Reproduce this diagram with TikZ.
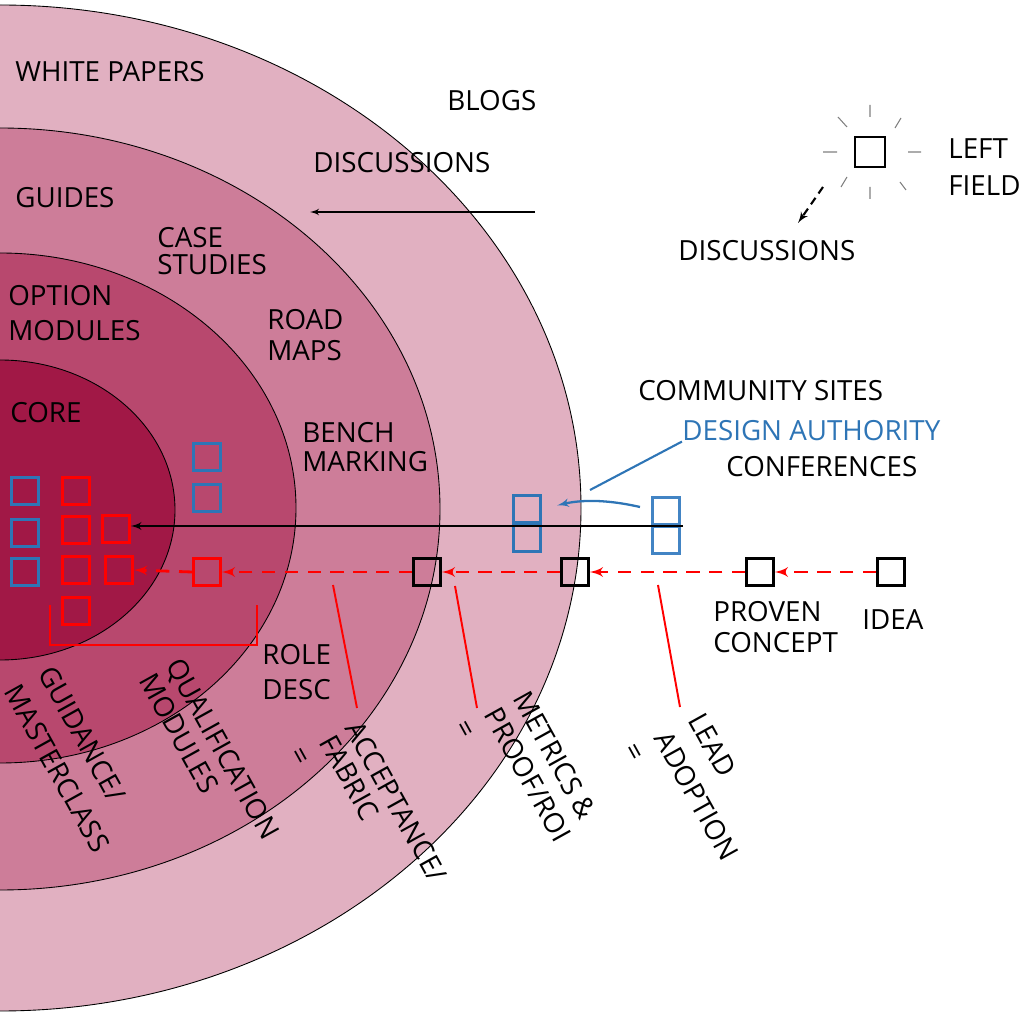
\documentclass[tikz,border=0pt]{standalone}
\usepackage{fontspec}
\setmainfont{Open Sans}
\usepackage{xcolor}
\usepackage{tikz}
\usetikzlibrary{arrows, arrows.meta}

\definecolor{ringouter}{RGB}{225,176,193}
\definecolor{ringmid}{RGB}{205,125,153}
\definecolor{ringinner}{RGB}{184,72,110}
\definecolor{ringcore}{RGB}{161,24,70}
\definecolor{dablue}{RGB}{46,117,182}
\definecolor{dalight}{RGB}{66,132,196}

\begin{document}
\begin{tikzpicture}[x=0.02cm, y=-0.02cm, >=latex',
    lbl/.style={inner sep=0pt, align=left, anchor=west, font=\fontsize{15.8}{17.5}\selectfont},
    turned/.style={lbl, anchor=north west, rotate=-61},
    box/.style={rectangle, draw, line width=1.5pt, minimum size=0.54cm, inner sep=0pt},
    redbox/.style={box, draw=red},
    bluebox/.style={box, draw=dablue},
    flow/.style={->, red, line width=1.6pt, dash pattern=on 7.5pt off 5.5pt},
    pointer/.style={red, line width=1.1pt}]
    \useasboundingbox (0,0) rectangle (1019,1013);

    % rings, cut at the left edge
    \begin{scope}
        \clip (0,0) rectangle (1019,1013);
        \filldraw [fill=ringouter, line width=0.5pt] (0,508) ellipse (581 and 503);
        \filldraw [fill=ringmid, line width=0.5pt] (0,509) ellipse (440 and 381);
        \filldraw [fill=ringinner, line width=0.5pt] (0,508) ellipse (296 and 255);
        \filldraw [fill=ringcore, line width=0.5pt] (0,510) ellipse (175 and 150);
    \end{scope}

    \node (wp) at (15,72) [lbl] {WHITE PAPERS};
    \node (blogs) at (447,101) [lbl] {BLOGS};
    \node (disc) at (313,163) [lbl] {DISCUSSIONS};
    \node (guides) at (15,198) [lbl] {GUIDES};
    \node (cases) at (157,251) [lbl, font=\fontsize{15.8}{15.8}\selectfont] {CASE\\STUDIES};
    \node (optmod) at (8,313) [lbl, font=\fontsize{15.8}{20}\selectfont] {OPTION\\MODULES};
    \node (roads) at (267,335) [lbl] {ROAD\\MAPS};
    \node (core) at (10,413) [lbl] {CORE};
    \node (bench) at (302,447) [lbl, font=\fontsize{15.8}{16.5}\selectfont] {BENCH\\MARKING};
    \node (roles) at (262,672) [lbl, font=\fontsize{15.8}{20}\selectfont] {ROLE\\DESC};

    \node (community) at (638,391) [lbl] {COMMUNITY SITES};
    \node (da) at (682,431) [lbl, text=dablue] {DESIGN AUTHORITY};
    \node (conf) at (726,467) [lbl] {CONFERENCES};

    \coordinate (discfrom) at (535,212);
    \coordinate (discto) at (310,212);
    \draw [->, line width=0.8pt] (discfrom) -- (discto);

    % left field
    \node (lf) at (870,152) [box, line width=1.3pt, minimum size=0.6cm] {};
    \node (lftext) at (948,167) [lbl, font=\fontsize{15.8}{21.5}\selectfont] {LEFT\\FIELD};
    \node (disc2) at (678,251) [lbl] {DISCUSSIONS};
    \draw [gray, line width=0.6pt] (870,105) -- (870,117)  (870,187) -- (870,199)
        (823,152) -- (837,152)  (908,152) -- (921,152)
        (838,117) -- (847,127)  (901,118) -- (895,128)
        (847,177) -- (841,187)  (900,182) -- (906,190);
    \coordinate (lfout) at (823,187);
    \coordinate (lfin) at (798,223);
    \draw [->, line width=1.2pt, dash pattern=on 4.5pt off 3pt] (lfout) -- (lfin);

    % squares in the core
    \node (b1) at (25,491) [bluebox] {};
    \node (b2) at (25,533) [bluebox] {};
    \node (b3) at (25,572) [bluebox] {};
    \node (r1) at (76,491) [redbox] {};
    \node (r2) at (76,530) [redbox] {};
    \node (r3) at (76,570) [redbox] {};
    \node (r4) at (76,611) [redbox] {};
    \node (r5) at (116,529) [redbox] {};
    \node (r6) at (119,570) [redbox] {};
    \node (b4) at (207,457) [bluebox] {};
    \node (b5) at (207,498) [bluebox] {};
    \node (r7) at (207,572) [redbox] {};
    \draw [red, line width=1.2pt] (50,605) -- (50,645) -- (257,645) -- (257,605);

    % pipeline
    \node (accept) at (427,572) [box] {};
    \node (metric) at (575,572) [box] {};
    \node (proven) at (760,572) [box] {};
    \node (idea) at (891,572) [box] {};
    \node (provtext) at (713,627) [lbl] {PROVEN\\CONCEPT};
    \node (ideatext) at (862,620) [lbl] {IDEA};
    \draw [flow] (idea.west) -- (proven.east);
    \draw [flow] (proven.west) -- (metric.east);
    \draw [flow] (metric.west) -- (accept.east);
    \draw [flow] (accept.west) -- (r7.east);
    \draw [flow] (r7.west) -- (r6.east);

    % design authority
    \node (dl1) at (527,509) [bluebox] {};
    \node (dl2) at (527,538) [bluebox] {};
    \node (dr1) at (666,511) [box, draw=dalight, line width=1.3pt] {};
    \node (dr2) at (666,540) [box, draw=dalight, line width=1.3pt] {};
    \coordinate (mainfrom) at (683,526);
    \draw [->, line width=1.1pt] (mainfrom) -- (mainfrom -| r5.east);
    \coordinate (dafrom) at (640,507);
    \draw [->, dablue, line width=1.3pt, shorten >=9pt] (dafrom) .. controls (605,499) and (580,500) .. (dl1.east);
    \coordinate (dalink) at (590,490);
    \draw [dablue, line width=1.2pt] (da.south west) -- (dalink);

    % labels under the pipeline
    \coordinate (pa1) at (333,585);  \coordinate (pa2) at (357,708);
    \coordinate (pb1) at (455,586);  \coordinate (pb2) at (477,708);
    \coordinate (pc1) at (658,585);  \coordinate (pc2) at (680,707);
    \draw [pointer] (pa1) -- (pa2);
    \draw [pointer] (pb1) -- (pb2);
    \draw [pointer] (pc1) -- (pc2);

    \node (guid) at (55,663) [turned, font=\fontsize{15.8}{22}\selectfont] {GUIDANCE/\\MASTERCLASS};
    \node (qual) at (183,655) [turned] {QUALIFICATION\\MODULES};
    \node (accfab) at (362,718) [turned, font=\fontsize{15.8}{16.5}\selectfont] {ACCEPTANCE/\\FABRIC};
    \node (proof) at (530,688) [turned, font=\fontsize{15.8}{19}\selectfont] {METRICS \&\\PROOF/ROI};
    \node (lead) at (705,710) [turned, font=\fontsize{15.8}{22}\selectfont] {LEAD\\ADOPTION};
    \node (eq1) at (298,757) [lbl, anchor=center, rotate=-61] {=};
    \node (eq2) at (463,730) [lbl, anchor=center, rotate=-61] {=};
    \node (eq3) at (632,753) [lbl, anchor=center, rotate=-61] {=};
\end{tikzpicture}
\end{document}
